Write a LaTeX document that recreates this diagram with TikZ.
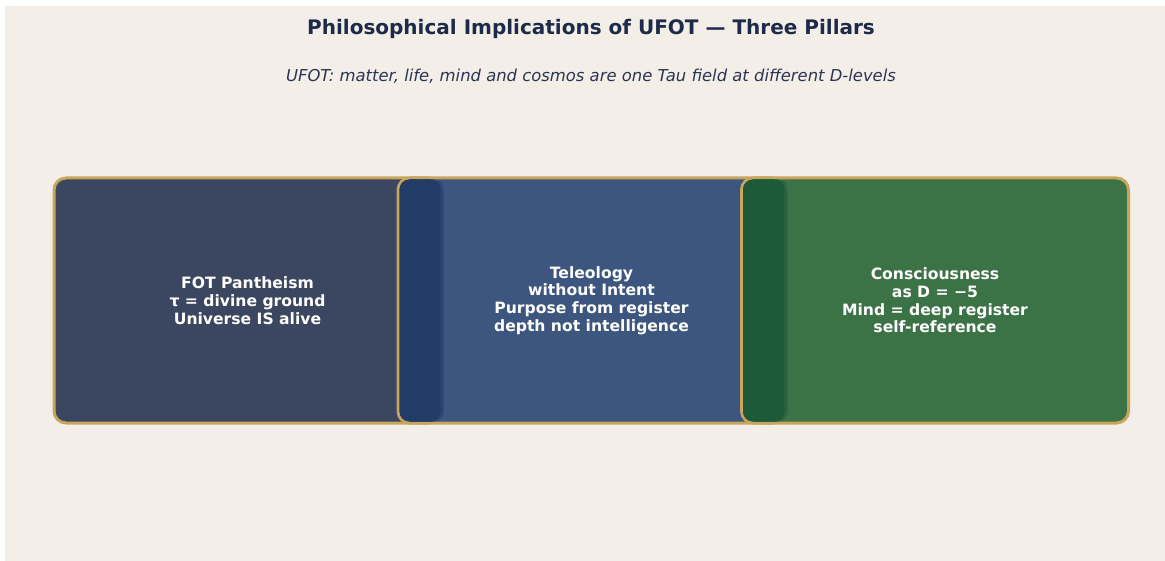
\documentclass[tikz,border=0pt]{standalone}
\usepackage{fontspec}
\setmainfont{DejaVu Sans}
\usepackage{tikz}
\usetikzlibrary{positioning, calc}
\definecolor{PageBeige}{HTML}{F3EFE8}
\definecolor{TitleNavy}{HTML}{1E2A4A}
\definecolor{SubNavy}{HTML}{2A3452}
\definecolor{PillarGold}{HTML}{C8A55C}
\definecolor{SlateGray}{HTML}{3B4660}
\definecolor{SteelBlue}{HTML}{3D5680}
\definecolor{SteelShade}{HTML}{213C67}
\definecolor{PillarGreen}{HTML}{3C7346}
\definecolor{GreenShade}{HTML}{1F5A38}
\tikzset{
  pillarbox/.style={rectangle, rounded corners=12pt, draw=PillarGold, line width=3pt, minimum width=387pt, minimum height=245pt, text=white, font=\bfseries\fontsize{15.6}{17.7}\selectfont, align=center},
  titletext/.style={font=\bfseries\fontsize{20}{24}\selectfont, text=TitleNavy},
  subtext/.style={font=\itshape\fontsize{16.4}{19}\selectfont, text=SubNavy},
  shadestrip/.style={rounded corners=10pt}
}

\begin{document}
\begin{tikzpicture}[x=1pt, y=-1pt]
  \fill[white] (0,0) rectangle (1165,561);
  \fill[PageBeige] (5,6) rectangle (1165,561);

  \node[titletext] (title) at (591,29) {Philosophical Implications of UFOT — Three Pillars};
  \node[subtext] (subtitle) at (591,76) {UFOT: matter, life, mind and cosmos are one Tau field at different D-levels};

  % three pillars, each one over the last
  \node[pillarbox, fill=SlateGray] (fot) at (247.5,300.5) {FOT Pantheism\\τ = divine ground\\Universe IS alive};

  \node[pillarbox, fill=SteelBlue] (teleo) at (591.5,300.5) {Teleology\\without Intent\\Purpose from register\\depth not intelligence};
  \fill[SteelShade!60!SteelBlue, shadestrip] ([shift={(3,3)}]teleo.north west) rectangle ([shift={(1pt,3pt)}]teleo.south -| fot.east);
  \fill[SteelShade, shadestrip] ([shift={(3,3)}]teleo.north west) rectangle ([shift={(-2pt,3pt)}]teleo.south -| fot.east);

  \node[pillarbox, fill=PillarGreen] (consc) at (935,300.5) {Consciousness\\as D = −5\\Mind = deep register\\self-reference};
  \fill[GreenShade!60!PillarGreen, shadestrip] ([shift={(3,3)}]consc.north west) rectangle ([shift={(1pt,3pt)}]consc.south -| teleo.east);
  \fill[GreenShade, shadestrip] ([shift={(3,3)}]consc.north west) rectangle ([shift={(-2pt,3pt)}]consc.south -| teleo.east);
\end{tikzpicture}
\end{document}
